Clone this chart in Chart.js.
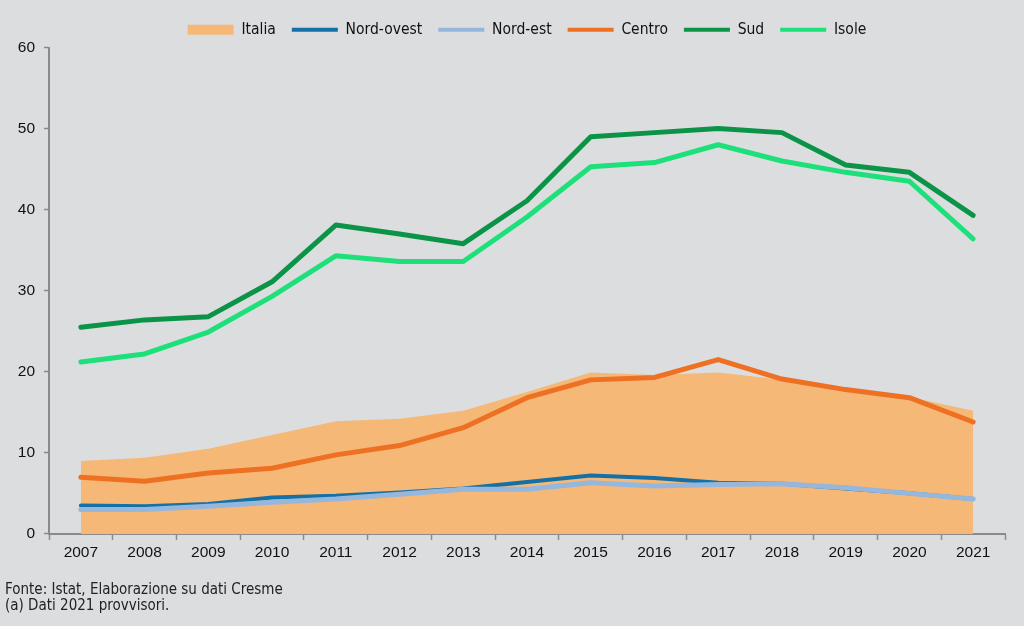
<!DOCTYPE html>
<html>
<head>
<meta charset="utf-8">
<script src="https://cdn.jsdelivr.net/npm/chart.js@4/dist/chart.umd.min.js"></script>
<style>
  html, body { margin: 0; padding: 0; background: #dcdddf; }
  #wrap { width: 1024px; height: 626px; }
</style>
</head>
<body>
<div id="wrap"><canvas id="chart"></canvas></div>
<script>
const YEARS = ['2007','2008','2009','2010','2011','2012','2013','2014','2015','2016','2017','2018','2019','2020','2021'];

const ITALIA     = [9.0, 9.4, 10.5, 12.2, 13.9, 14.2, 15.2, 17.5, 19.9, 19.6, 19.9, 19.0, 17.8, 16.9, 15.2];
const NORD_OVEST = [3.5, 3.4, 3.7, 4.5, 4.7, 5.1, 5.6, 6.4, 7.2, 6.9, 6.3, 6.2, 5.6, 5.0, 4.3];
const NORD_EST   = [3.0, 3.0, 3.4, 3.9, 4.3, 4.9, 5.5, 5.5, 6.3, 5.9, 6.1, 6.2, 5.7, 5.0, 4.3];
const CENTRO     = [7.0, 6.5, 7.5, 8.1, 9.75, 10.9, 13.1, 16.8, 19.0, 19.3, 21.5, 19.1, 17.8, 16.8, 13.8];
const SUD        = [25.5, 26.4, 26.8, 31.1, 38.1, 37.0, 35.8, 41.1, 49.0, 49.5, 50.0, 49.5, 45.5, 44.6, 39.3];
const ISOLE      = [21.2, 22.2, 24.9, 29.3, 34.3, 33.6, 33.6, 39.1, 45.3, 45.8, 48.0, 46.0, 44.6, 43.5, 36.4];

const FOOTNOTES = ['Fonte: Istat, Elaborazione su dati Cresme', '(a) Dati 2021 provvisori.'];

const NARROW = "'Liberation Sans Narrow', 'Arial Narrow', 'DejaVu Sans Condensed', sans-serif";
const SANS = "'Liberation Sans', Arimo, Arial, sans-serif";
const AXIS_GREY = '#8a8a8a';

function line(label, data, color, width, order) {
  return {
    label, data, order,
    borderColor: color, backgroundColor: color,
    borderWidth: width, pointRadius: 0, tension: 0,
    borderJoinStyle: 'round', borderCapStyle: 'round',
    fill: false
  };
}

new Chart(document.getElementById('chart'), {
  type: 'line',
  data: {
    labels: YEARS,
    datasets: [
      { label: 'Italia', data: ITALIA, order: 6, fill: 'origin',
        backgroundColor: '#f5b877', borderColor: '#f5b877', borderWidth: 0, pointRadius: 0, tension: 0 },
      line('Nord-ovest', NORD_OVEST, '#1570a6', 4, 5),
      line('Nord-est', NORD_EST, '#95b6dd', 5, 4),
      line('Centro', CENTRO, '#ee7022', 5, 3),
      line('Sud', SUD, '#0b9448', 5, 2),
      line('Isole', ISOLE, '#1ee07b', 5, 1)
    ]
  },
  options: {
    responsive: true,
    maintainAspectRatio: false,
    animation: false,
    layout: { padding: { left: 5, right: 19, top: 6, bottom: 6 } },
    plugins: {
      tooltip: { enabled: false },
      legend: {
        position: 'top',
        fullSize: false,
        labels: {
          font: { family: NARROW, size: 15.5 },
          color: '#111',
          usePointStyle: true,
          pointStyleWidth: 46,
          boxHeight: 10,
          padding: 16,
          generateLabels(chart) {
            return chart.data.datasets.map((ds, i) => ({
              text: ds.label,
              datasetIndex: i,
              fillStyle: ds.backgroundColor,
              strokeStyle: ds.borderColor,
              lineWidth: i === 0 ? 0 : 4,
              pointStyle: i === 0 ? 'rect' : 'line',
              fontColor: '#111',
              hidden: false
            }));
          }
        }
      },
      subtitle: {
        display: true,
        position: 'bottom',
        align: 'start',
        text: FOOTNOTES,
        color: '#222',
        font: { family: NARROW, size: 15, lineHeight: 1.05 },
        padding: { top: 16, bottom: 6 }
      }
    },
    scales: {
      x: {
        offset: true,
        grid: { display: true, drawOnChartArea: false, offset: true, color: AXIS_GREY, tickLength: 6, tickWidth: 1.5 },
        border: { color: AXIS_GREY, width: 2 },
        ticks: { color: '#111', font: { family: SANS, size: 15.5 }, padding: 4, maxRotation: 0 }
      },
      y: {
        min: 0, max: 60,
        afterFit(scale) { scale.width = 44; },
        grid: { display: true, drawOnChartArea: false, color: AXIS_GREY, tickLength: 5, tickWidth: 1.5 },
        border: { color: AXIS_GREY, width: 2 },
        ticks: { stepSize: 10, color: '#111', font: { family: SANS, size: 15.5 }, padding: 9 }
      }
    }
  }
});
</script>
</body>
</html>
